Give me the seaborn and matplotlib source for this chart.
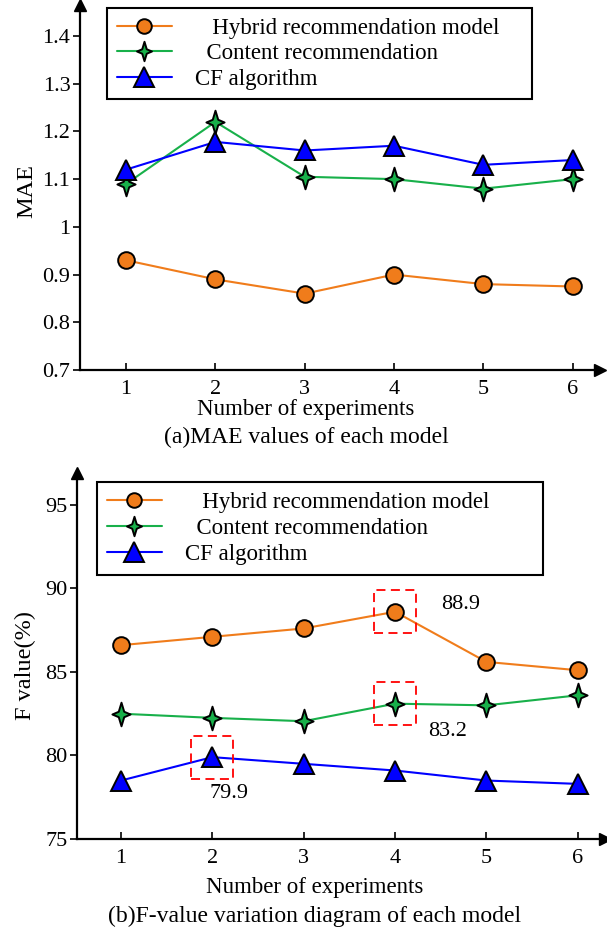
import numpy as np
import pandas as pd
import matplotlib
matplotlib.use("Agg")
import matplotlib.pyplot as plt
import seaborn as sns
from matplotlib.path import Path
from matplotlib.patches import Rectangle

# ---------------- data ----------------
experiments = [1, 2, 3, 4, 5, 6]
series_names = ["Hybrid recommendation model", "Content recommendation", "CF algorithm"]

mae_hybrid = [0.93, 0.89, 0.86, 0.90, 0.88, 0.875]
mae_content = [1.09, 1.22, 1.105, 1.10, 1.08, 1.10]
mae_cf = [1.12, 1.178, 1.16, 1.17, 1.13, 1.14]

f_hybrid = [86.6, 87.1, 87.6, 88.6, 85.6, 85.1]
f_content = [82.5, 82.25, 82.05, 83.1, 83.0, 83.6]
f_cf = [78.5, 79.9, 79.5, 79.1, 78.5, 78.3]

mae_yticks = [0.7, 0.8, 0.9, 1.0, 1.1, 1.2, 1.3, 1.4]
mae_yticklabels = ["0.7", "0.8", "0.9", "1", "1.1", "1.2", "1.3", "1.4"]
f_yticks = [75, 80, 85, 90, 95]

highlights = [  # (x, y, label text)
    (4, 88.6, "88.9"),
    (4, 83.1, "83.2"),
    (2, 79.9, "79.9"),
]

# ---------------- style ----------------
sns.set_theme(style="white")
plt.rcParams["font.family"] = ["Liberation Serif", "DejaVu Serif"]

C_OR = "#F07C1B"
C_GR = "#18B04A"
C_BL = "#0000FF"

star = Path([(0, 1.3), (0.3, 0.3), (1.0, 0), (0.3, -0.3), (0, -1.3),
             (-0.3, -0.3), (-1.0, 0), (-0.3, 0.3), (0, 1.3)],
            [Path.MOVETO] + [Path.LINETO] * 7 + [Path.CLOSEPOLY])

fig = plt.figure(figsize=(6.07, 9.36), dpi=100)
ax1 = fig.add_axes([0.132, 0.6047, 0.857, 0.39])
ax2 = fig.add_axes([0.127, 0.1036, 0.870, 0.391])

FS = 16

def style_axes(ax):
    for s in ["top", "right"]:
        ax.spines[s].set_visible(False)
    for s in ["left", "bottom"]:
        ax.spines[s].set_color("black")
        ax.spines[s].set_linewidth(1.6)
    ax.tick_params(axis="x", direction="in", length=5, width=1.2, colors="black",
                   labelsize=FS, pad=7, bottom=True)
    ax.tick_params(axis="y", direction="out", length=5, width=1.2, colors="black",
                   labelsize=FS, pad=2, left=True)
    ax.plot(1, 0, marker=">", color="black", ms=8, transform=ax.transAxes, clip_on=False)
    ax.plot(0, 1, marker="^", color="black", ms=8, transform=ax.transAxes, clip_on=False)
    ax.grid(False)

def draw(ax, ys, ms_c, ms_s, ms_t):
    sns.lineplot(x=experiments, y=ys[0], ax=ax, color=C_OR, lw=1.5, marker="o",
                 markersize=ms_c, markerfacecolor=C_OR, markeredgecolor="black",
                 markeredgewidth=1.4, label=series_names[0])
    sns.lineplot(x=experiments, y=ys[1], ax=ax, color=C_GR, lw=1.5, marker=star,
                 markersize=ms_s, markerfacecolor=C_GR, markeredgecolor="black",
                 markeredgewidth=1.4, label=series_names[1])
    sns.lineplot(x=experiments, y=ys[2], ax=ax, color=C_BL, lw=1.5, marker="^",
                 markersize=ms_t, markerfacecolor=C_BL, markeredgecolor="black",
                 markeredgewidth=1.4, label=series_names[2])

def legend(ax, bbox, spacing):
    handles, _ = ax.get_legend_handles_labels()
    labels = ["   " + series_names[0], "  " + series_names[1], series_names[2]]
    leg = ax.legend(handles, labels, loc="upper left", bbox_to_anchor=bbox, mode="expand",
                    frameon=True, fancybox=False, edgecolor="black", fontsize=FS + 0.5,
                    handlelength=2.4, handletextpad=1.0, labelspacing=spacing,
                    borderpad=0.42, borderaxespad=0, framealpha=1)
    leg.get_frame().set_linewidth(1.5)
    for h, ms in zip(leg.legend_handles, [10.5, 14, 14]):
        h.set_markersize(ms)
    for t in leg.get_texts():
        t.set_color("black")
    return leg

# ---------------- top panel ----------------
draw(ax1, [mae_hybrid, mae_content, mae_cf], 12, 17, 15)
ax1.set_xlim(0.485, 6.31)
ax1.set_ylim(0.7, 1.465)
ax1.set_xticks(experiments)
ax1.set_yticks(mae_yticks)
ax1.set_yticklabels(mae_yticklabels)
ax1.set_xlabel("")
ax1.set_ylabel("MAE", fontsize=FS + 1.5, color="black")
ax1.yaxis.set_label_coords(-0.083, 0.49)
style_axes(ax1)
legend(ax1, (0.052, 0.742, 0.817, 0.25), 0.2)

# ---------------- bottom panel ----------------
draw(ax2, [f_hybrid, f_content, f_cf], 12, 17, 15)
ax2.set_xlim(0.52, 6.3)
ax2.set_ylim(75, 96.9)
ax2.set_xticks(experiments)
ax2.set_yticks(f_yticks)
ax2.set_xlabel("")
ax2.set_ylabel("F value(%)", fontsize=FS + 1.5, color="black")
ax2.yaxis.set_label_coords(-0.078, 0.475)
style_axes(ax2)
legend(ax2, (0.038, 0.719, 0.845, 0.256), 0.22)

# highlight boxes and labels
text_offsets = {"88.9": (0.72, 0.45), "83.2": (0.57, -1.65), "79.9": (0.18, -2.2)}
for x, y, lab in highlights:
    ax2.add_patch(Rectangle((x - 0.23, y - 1.28), 0.46, 2.56, fill=False,
                            edgecolor="red", lw=1.3, ls=(0, (5, 3)), zorder=5))
    dx, dy = text_offsets[lab]
    ax2.text(x + dx, y + dy, lab, fontsize=FS, color="black", ha="center", va="center")

# axis titles and captions
fig.text(306 / 607, 1 - 410 / 936, "Number of experiments", ha="center", va="center",
         fontsize=FS + 0.5, color="black")
fig.text(306 / 607, 1 - 437 / 936, "(a)MAE values of each model", ha="center", va="center",
         fontsize=FS + 1, color="black")
fig.text(315 / 607, 1 - 888 / 936, "Number of experiments", ha="center", va="center",
         fontsize=FS + 0.5, color="black")
fig.text(315 / 607, 1 - 916 / 936, "(b)F-value variation diagram of each model",
         ha="center", va="center", fontsize=FS + 1, color="black")

fig.savefig("out.png", dpi=100, facecolor="white")
